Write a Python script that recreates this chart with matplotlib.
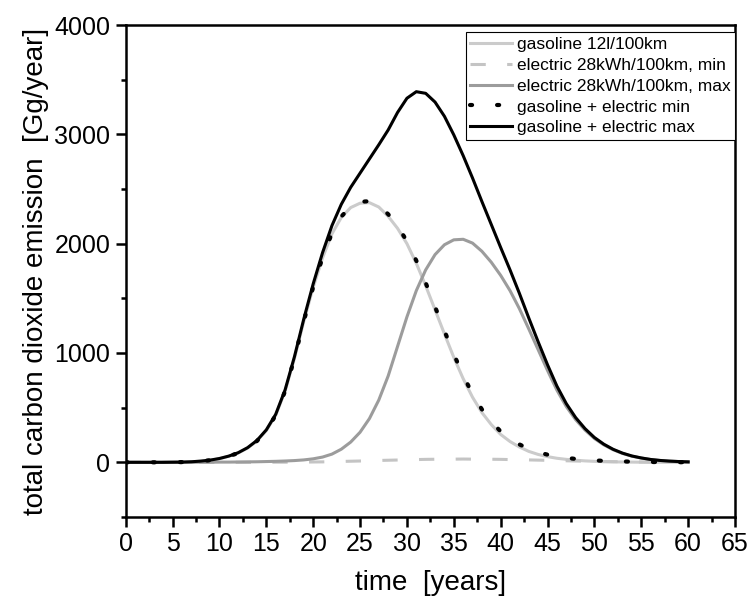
import numpy as np
import matplotlib
matplotlib.use("Agg")
import matplotlib.pyplot as plt
from matplotlib.ticker import MultipleLocator

plt.rcParams['font.family'] = ['Liberation Sans', 'DejaVu Sans']

# years 0..60
years = np.arange(0, 61)

gasoline = np.array([
    0, 0, 0, 0, 0, 1, 2, 5, 10, 19,
    33, 55, 85, 130, 195, 290, 430, 650, 950, 1290,
    1600, 1870, 2090, 2240, 2330, 2370, 2375, 2335, 2250, 2140,
    2000, 1820, 1615, 1395, 1175, 960, 765, 595, 455, 345,
    255, 190, 140, 100, 72, 52, 37, 27, 19, 13,
    9, 6, 4, 3, 2, 1, 0, 0, 0, 0,
    0])

electric_min = np.array([
    0, 0, 0, 0, 0, 0, 0, 0, 0, 0,
    0, 0, 0, 0, 0, 0, 1, 1, 2, 2,
    3, 4, 6, 8, 10, 12, 14, 17, 19, 21,
    23, 25, 27, 28, 29, 29, 30, 29, 29, 28,
    27, 25, 24, 22, 20, 18, 16, 14, 12, 10,
    9, 7, 6, 5, 4, 3, 3, 2, 2, 1,
    1])

electric_max = np.array([
    0, 0, 0, 0, 0, 0, 0, 0, 1, 1,
    2, 2, 3, 4, 5, 7, 9, 12, 16, 22,
    32, 48, 75, 120, 185, 275, 400, 570, 790, 1060,
    1330, 1570, 1760, 1900, 1990, 2035, 2040, 2005, 1930, 1830,
    1710, 1570, 1405, 1220, 1030, 840, 660, 510, 390, 295,
    218, 160, 115, 81, 56, 39, 26, 17, 11, 7,
    4])

total_min = gasoline + electric_min
total_max = gasoline + electric_max

fig = plt.figure(figsize=(7.51, 6.01), dpi=100)
ax = fig.add_axes([0.1674, 0.1398, 0.8113, 0.8186])

ax.plot(years, gasoline, color='#cbcbcb', lw=2.2, label='gasoline 12l/100km')
ax.plot(years, electric_min, color='#c4c4c4', lw=2.2, dashes=(5, 7),
        label='electric 28kWh/100km, min')
ax.plot(years, electric_max, color='#9c9c9c', lw=2.2, label='electric 28kWh/100km, max')
ax.plot(years, total_max, color='black', lw=2.2, label='gasoline + electric max', zorder=3)
ax.plot(years, total_min, color='black', lw=3, dashes=(0.5, 6),
        dash_capstyle='round', label='gasoline + electric min', zorder=4)

ax.set_xlim(0, 65)
ax.set_ylim(-500, 4000)
ax.xaxis.set_major_locator(MultipleLocator(5))
ax.xaxis.set_minor_locator(MultipleLocator(2.5))
ax.yaxis.set_major_locator(MultipleLocator(1000))
ax.yaxis.set_minor_locator(MultipleLocator(500))
ax.tick_params(which='major', direction='out', length=7, width=1.8, labelsize=18, pad=4)
ax.tick_params(which='minor', direction='out', length=3.5, width=1.8)
for s in ax.spines.values():
    s.set_linewidth(1.8)

ax.set_xlabel('time  [years]', fontsize=20, labelpad=10)
ax.set_ylabel('total carbon dioxide emission  [Gg/year]', fontsize=20, labelpad=4)

handles, labels = ax.get_legend_handles_labels()
order = [0, 1, 2, 4, 3]
leg = ax.legend([handles[i] for i in order], [labels[i] for i in order],
                loc='upper right', bbox_to_anchor=(1.0, 0.985), borderaxespad=0,
                fontsize=12.5, fancybox=False, framealpha=1, edgecolor='black',
                handlelength=2.4, handletextpad=0.3, labelspacing=0.33,
                borderpad=0.25)
leg.get_frame().set_linewidth(0.8)

fig.savefig('out.png', dpi=100)
